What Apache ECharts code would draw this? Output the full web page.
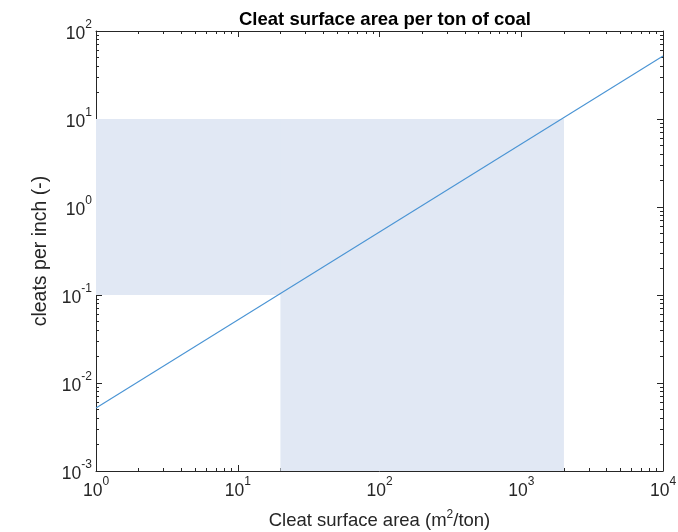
<!DOCTYPE html>
<html>
<head>
<meta charset="utf-8">
<script src="https://cdn.jsdelivr.net/npm/echarts@6/dist/echarts.min.js"></script>
<style>html,body{margin:0;padding:0;background:#fff}#c{width:678px;height:532px}</style>
</head>
<body>
<div id="c"></div>
<script>
const titleText = 'Cleat surface area per ton of coal';
const xName = 'Cleat surface area (m{s|2}/ton)';
const yName = 'cleats per inch (-)';
const xRange = [1, 10000];
const yRange = [0.001, 100];
const xMajorTicks = [1, 10, 100, 1000, 10000];
const xMinorTicks = [2,3,4,5,6,7,8,9, 20,30,40,50,60,70,80,90, 200,300,400,500,600,700,800,900, 2000,3000,4000,5000,6000,7000,8000,9000];
const yMajorTicks = [0.001, 0.01, 0.1, 1, 10, 100];
const yMinorTicks = [0.002,0.003,0.004,0.005,0.006,0.007,0.008,0.009, 0.02,0.03,0.04,0.05,0.06,0.07,0.08,0.09, 0.2,0.3,0.4,0.5,0.6,0.7,0.8,0.9, 2,3,4,5,6,7,8,9, 20,30,40,50,60,70,80,90];
const lineX = [1, 10000];
const lineY = [0.0052, 52];
// shaded region corners
const shadeUpper = [[1, 0.1], [2000, 10]];
const shadeLower = [[20, 0.001], [2000, 10]];

const axisColor = '#262626';
const rich = {
  b: {fontSize: 17.5, fontFamily: 'Liberation Sans', color: axisColor, lineHeight: 24, verticalAlign: 'bottom'},
  s: {fontSize: 12, fontFamily: 'Liberation Sans', color: axisColor, lineHeight: 24, verticalAlign: 'top'}
};
function fmt(v) {
  const e = Math.round(Math.log10(v));
  return '{b|10}{s|' + e + '}';
}
function mkAxis(type, pos, ticks, len, showLine, showLabel, extra) {
  const range = type === 'x' ? xRange : yRange;
  return Object.assign({
    type: 'log', logBase: 10, position: pos, min: range[0], max: range[1],
    axisLine: {show: showLine, lineStyle: {color: axisColor, width: 1}},
    axisTick: {show: true, inside: true, length: len, customValues: ticks, lineStyle: {color: axisColor, width: 1}},
    axisLabel: {show: showLabel, customValues: ticks, formatter: fmt, rich: rich, margin: type === 'x' ? 5 : 4},
    splitLine: {show: false},
    minorTick: {show: false}
  }, extra || {});
}

const chart = echarts.init(document.getElementById('c'));
chart.setOption({
  animation: false,
  backgroundColor: '#fff',
  title: {
    text: titleText, left: 380, top: 5, textAlign: 'center',
    textStyle: {fontFamily: 'Liberation Sans', fontWeight: 'bold', fontSize: 18.5, color: '#000'}
  },
  grid: {left: 96, right: 15, top: 31, bottom: 61, containLabel: false, outerBoundsMode: 'none'},
  xAxis: [
    mkAxis('x', 'bottom', xMajorTicks, 6, true, true, {
      name: xName, nameLocation: 'middle', nameGap: 38,
      nameTextStyle: {fontFamily: 'Liberation Sans', fontSize: 18.5, color: axisColor, lineHeight: 24,
        rich: {s: {fontSize: 12, fontFamily: 'Liberation Sans', color: axisColor, verticalAlign: 'top', lineHeight: 24}}}
    }),
    mkAxis('x', 'bottom', xMinorTicks, 3, false, false),
    mkAxis('x', 'top', xMajorTicks, 6, true, false),
    mkAxis('x', 'top', xMinorTicks, 3, false, false)
  ],
  yAxis: [
    mkAxis('y', 'left', yMajorTicks, 6, true, true, {
      name: yName, nameLocation: 'middle', nameGap: 43,
      nameTextStyle: {fontFamily: 'Liberation Sans', fontSize: 19.5, color: axisColor}
    }),
    mkAxis('y', 'left', yMinorTicks, 3, false, false),
    mkAxis('y', 'right', yMajorTicks, 6, true, false),
    mkAxis('y', 'right', yMinorTicks, 3, false, false)
  ],
  series: [
    {
      type: 'line', xAxisIndex: 0, yAxisIndex: 0, silent: true,
      data: lineX.map((x, i) => [x, lineY[i]]),
      showSymbol: false, symbol: 'none',
      lineStyle: {color: '#4a94d4', width: 1.1},
      z: 5,
      markArea: {
        silent: true,
        itemStyle: {color: '#e1e8f4', borderWidth: 0},
        data: [
          [{coord: shadeUpper[0]}, {coord: shadeUpper[1]}],
          [{coord: shadeLower[0]}, {coord: shadeLower[1]}]
        ],
        z: 1
      }
    }
  ]
});
</script>
</body>
</html>
